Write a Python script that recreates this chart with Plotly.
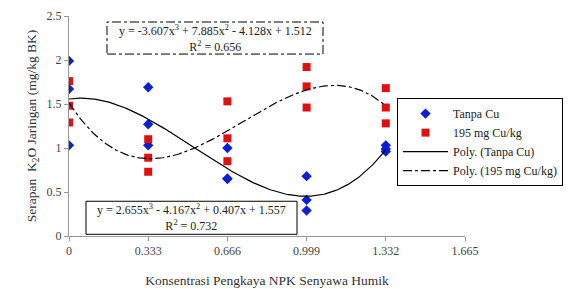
import numpy as np
import plotly.graph_objects as go

x_levels = [0, 0.333, 0.666, 0.999, 1.332]
tick_vals = [0, 0.333, 0.666, 0.999, 1.332, 1.665]
tick_text = ["0", "0.333", "0.666", "0.999", "1.332", "1.665"]

tanpa_x = [0, 0, 0, 0.333, 0.333, 0.333, 0.666, 0.666, 0.666, 0.999, 0.999, 0.999, 1.332, 1.332, 1.332]
tanpa_y = [1.99, 1.67, 1.03, 1.69, 1.27, 1.03, 1.00, 0.65, 0.65, 0.68, 0.41, 0.29, 1.03, 0.99, 0.96]

cu_x = [0, 0, 0, 0.333, 0.333, 0.333, 0.666, 0.666, 0.666, 0.999, 0.999, 0.999, 1.332, 1.332, 1.332]
cu_y = [1.76, 1.48, 1.29, 1.10, 0.89, 0.73, 1.53, 1.11, 0.85, 1.92, 1.70, 1.46, 1.68, 1.46, 1.28]

coef_tanpa = [2.655, -4.167, 0.407, 1.557]
coef_cu = [-3.607, 7.885, -4.128, 1.512]

xs = np.linspace(0, 1.332, 200)
fit_tanpa = np.polyval(coef_tanpa, xs)
fit_cu = np.polyval(coef_cu, xs)

font = "Times New Roman, Liberation Serif, DejaVu Serif, serif"

L, R, T, B = 69, 465, 16, 235.7
W, H = R - L, B - T


def px(v):
    return (v - L) / W


def py(v):
    return (B - v) / H


fig = go.Figure()
fig.add_trace(go.Scatter(x=tanpa_x, y=tanpa_y, mode="markers", name="Tanpa Cu",
                         marker=dict(symbol="diamond", size=8, color="#0a1fd6")))
fig.add_trace(go.Scatter(x=cu_x, y=cu_y, mode="markers", name="195 mg Cu/kg",
                         marker=dict(symbol="square", size=8, color="#e01010")))
fig.add_trace(go.Scatter(x=xs, y=fit_tanpa, mode="lines", name="Poly. (Tanpa Cu)",
                         line=dict(color="black", width=1.2)))
fig.add_trace(go.Scatter(x=xs, y=fit_cu, mode="lines", name="Poly. (195 mg Cu/kg)",
                         line=dict(color="black", width=1.2, dash="dashdot")))

fig.update_layout(
    width=572, height=289,
    margin=dict(l=L, r=572 - R, t=T, b=289 - B, autoexpand=False),
    paper_bgcolor="white", plot_bgcolor="white",
    font=dict(family=font, size=12, color="#444"),
    showlegend=True,
    legend=dict(x=px(397), y=py(98), xanchor="left", yanchor="top",
                bordercolor="black", borderwidth=1, bgcolor="white", itemwidth=45,
                font=dict(family=font, size=12, color="#222"), tracegroupgap=0),
    xaxis=dict(range=[0, 1.665], tickvals=tick_vals, ticktext=tick_text, automargin=False,
               showgrid=False, zeroline=False, showline=True, linecolor="#999",
               ticks="outside", ticklen=4, tickcolor="#999",
               title=dict(text="Konsentrasi Pengkaya NPK Senyawa Humik", font=dict(size=13.5, color="#333"), standoff=18)),
    yaxis=dict(range=[0, 2.5], tickvals=[0, 0.5, 1, 1.5, 2, 2.5], automargin=False,
               ticktext=["0", "0.5", "1", "1.5", "2", "2.5"],
               showgrid=False, zeroline=False, showline=True, linecolor="#999",
               ticks="outside", ticklen=4, tickcolor="#999",
               title=dict(text="Serapan  K<sub>2</sub>O Jaringan (mg/kg BK)", font=dict(size=13.5, color="#333"), standoff=6)),
)

fig.add_shape(type="rect", xref="paper", yref="paper",
              x0=px(107), x1=px(323), y0=py(54), y1=py(22),
              line=dict(color="black", width=1, dash="dashdot"), fillcolor="white", layer="below")
fig.add_annotation(xref="paper", yref="paper", x=px(215), y=py(38), xanchor="center", yanchor="middle",
                   text="y = -3.607x<sup>3</sup> + 7.885x<sup>2</sup> - 4.128x + 1.512<br>R<sup>2</sup> = 0.656",
                   showarrow=False, align="center", font=dict(size=12, color="#222"))

fig.add_shape(type="rect", xref="paper", yref="paper",
              x0=px(86), x1=px(297), y0=py(234), y1=py(201),
              line=dict(color="black", width=1), fillcolor="white", layer="above")
fig.add_annotation(xref="paper", yref="paper", x=px(191), y=py(217.5), xanchor="center", yanchor="middle",
                   text="y = 2.655x<sup>3</sup> - 4.167x<sup>2</sup> + 0.407x + 1.557<br>R<sup>2</sup> = 0.732",
                   showarrow=False, align="center", font=dict(size=12, color="#222"))

fig.write_html("out.html", config={"displayModeBar": False},
               post_script="document.body.style.margin='0px';")
